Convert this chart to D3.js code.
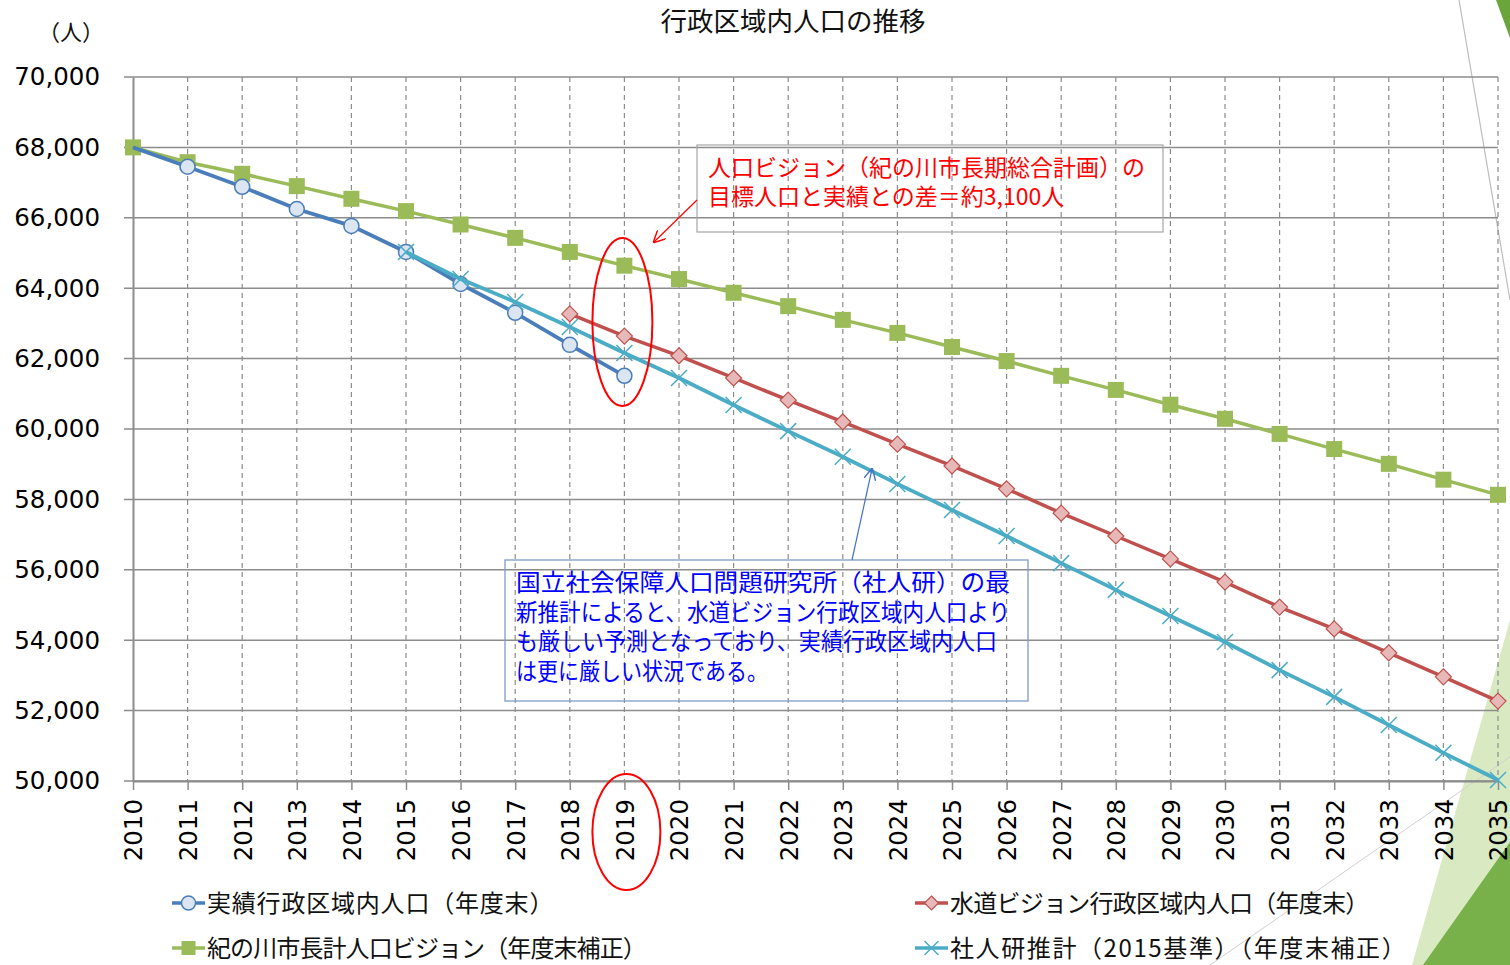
<!DOCTYPE html>
<html><head><meta charset="utf-8">
<script src="https://cdn.jsdelivr.net/npm/d3@7"></script>
<style>
html,body{margin:0;padding:0;background:#fff;}
svg{display:block;}
</style></head>
<body>
<svg id="chart" width="1510" height="965"></svg>
<script>
// ---- data ----
const years = [2010,2011,2012,2013,2014,2015,2016,2017,2018,2019,2020,2021,2022,2023,2024,2025,2026,2027,2028,2029,2030,2031,2032,2033,2034,2035];
const yTicks = [50000,52000,54000,56000,58000,60000,62000,64000,66000,68000,70000];
const actualYears = [2010,2011,2012,2013,2014,2015,2016,2017,2018,2019];
const actual = [68000,67450,66880,66250,65770,65030,64120,63300,62390,61510];
const visionYears = years;
const vision = [68000,67580,67250,66900,66540,66190,65810,65430,65030,64640,64260,63870,63490,63100,62730,62330,61930,61510,61110,60690,60290,59860,59430,59010,58560,58130];
const waterYears = [2018,2019,2020,2021,2022,2023,2024,2025,2026,2027,2028,2029,2030,2031,2032,2033,2034,2035];
const water = [63270,62640,62080,61450,60820,60200,59570,58950,58300,57610,56960,56310,55650,54940,54320,53640,52960,52270];
const ipssYears = [2015,2016,2017,2018,2019,2020,2021,2022,2023,2024,2025,2026,2027,2028,2029,2030,2031,2032,2033,2034,2035];
const ipss = [65030,64260,63610,62900,62160,61450,60680,59940,59210,58440,57700,56960,56190,55430,54690,53950,53150,52390,51590,50800,50030];
const seriesNames = ["実績行政区域内人口（年度末）","紀の川市長計人口ビジョン（年度末補正）","水道ビジョン行政区域内人口（年度末）","社人研推計（2015基準）（年度末補正）"];
const title = "行政区域内人口の推移";
const unitLabel = "（人）";
const note1 = ["人口ビジョン（紀の川市長期総合計画）の","目標人口と実績との差＝約3,100人"];
const note2 = ["国立社会保障人口問題研究所（社人研）の最","新推計によると、水道ビジョン行政区域内人口より","も厳しい予測となっており、実績行政区域内人口","は更に厳しい状況である。"];

const JP = "'Noto Sans CJK JP','Noto Sans',sans-serif";
const NUM = "'DejaVu Sans',Verdana,sans-serif";
const C = {blue:"#4a7ebb", blueFill:"#dce6f2", green:"#9bbb59", red:"#c0504d", redFill:"#e6b9b8", cyan:"#4bacc6", grid:"#8c8c8c"};

const svg = d3.select("#chart");
const x = d3.scaleLinear().domain([2010,2035]).range([133,1498]);
const y = d3.scaleLinear().domain([50000,70000]).range([781,77]);

// ---- slide decorations ----
const deco = svg.append("g");
deco.append("polygon").attr("points","1510,620 1510,965 1412,965").attr("fill","#d9eac3");
deco.append("polygon").attr("points","1510,842 1510,965 1423,965").attr("fill","#78b04a");
deco.append("polygon").attr("points","1496,0 1510,0 1510,38").attr("fill","#6aa53c");
deco.append("line").attr("x1",1210).attr("y1",965).attr("x2",1510).attr("y2",757).attr("stroke","#d0d0d0").attr("stroke-width",1);
deco.append("line").attr("x1",1459).attr("y1",0).attr("x2",1510).attr("y2",300).attr("stroke","#bdbdbd").attr("stroke-width",1.2);

// ---- grid ----
const g = svg.append("g");
g.selectAll(".hg").data(yTicks).join("line")
  .attr("x1",124).attr("x2",x(2035)).attr("y1",d=>y(d)).attr("y2",d=>y(d))
  .attr("stroke",C.grid).attr("stroke-width",1.5);
g.selectAll(".vg").data(years.slice(1)).join("line")
  .attr("x1",d=>x(d)).attr("x2",d=>x(d)).attr("y1",y(70000)).attr("y2",y(50000))
  .attr("stroke","#8c8c8c").attr("stroke-width",1.2).attr("stroke-dasharray","5,4");

// axes
const yAxis = d3.axisLeft(y).tickValues(yTicks).tickFormat(d3.format(",")).tickSize(0).tickPadding(33);
const ya = svg.append("g").attr("transform",`translate(${x(2010)},0)`).call(yAxis);
ya.select(".domain").attr("stroke","#8c8c8c").attr("stroke-width",2);
ya.selectAll("text").attr("font-family",NUM).attr("font-size",24.5).attr("fill","#000");

const xAxis = d3.axisBottom(x).tickValues(years).tickFormat(d=>String(d)).tickSize(9).tickSizeOuter(0).tickPadding(10);
const xa = svg.append("g").attr("transform",`translate(0,${y(50000)})`).call(xAxis);
xa.select(".domain").attr("stroke","#8c8c8c").attr("stroke-width",2);
xa.selectAll(".tick line").attr("stroke","#8c8c8c").attr("stroke-width",1.5);
xa.selectAll("text").attr("font-family",NUM).attr("font-size",24.5).attr("fill","#000")
  .attr("transform","rotate(-90)").attr("text-anchor","end").attr("dy","0.36em").attr("x",-18).attr("y",0);

// ---- series ----
const line = d3.line().x(d=>x(d[0])).y(d=>y(d[1]));
function zip(a,b){return a.map((v,i)=>[v,b[i]]);}
const dA = zip(actualYears,actual), dV = zip(visionYears,vision), dW = zip(waterYears,water), dI = zip(ipssYears,ipss);

const S = svg.append("g");
// green
S.append("path").datum(dV).attr("d",line).attr("fill","none").attr("stroke",C.green).attr("stroke-width",3.5);
S.selectAll(".sq").data(dV).join("rect").attr("x",d=>x(d[0])-8).attr("y",d=>y(d[1])-8).attr("width",16).attr("height",16).attr("fill",C.green);
// blue actual
S.append("path").datum(dA).attr("d",line).attr("fill","none").attr("stroke",C.blue).attr("stroke-width",3.8);
S.selectAll(".ci").data(dA.slice(1)).join("circle").attr("cx",d=>x(d[0])).attr("cy",d=>y(d[1])).attr("r",7.5)
  .attr("fill",C.blueFill).attr("stroke",C.blue).attr("stroke-width",1.5);
// red water
S.append("path").datum(dW).attr("d",line).attr("fill","none").attr("stroke",C.red).attr("stroke-width",3.5);
S.selectAll(".dm").data(dW).join("path").attr("transform",d=>`translate(${x(d[0])},${y(d[1])})`)
  .attr("d","M0,-8L8,0L0,8L-8,0Z").attr("fill",C.redFill).attr("stroke",C.red).attr("stroke-width",1.2);
// cyan ipss
S.append("path").datum(dI).attr("d",line).attr("fill","none").attr("stroke",C.cyan).attr("stroke-width",3.8);
S.selectAll(".xm").data(dI).join("path").attr("transform",d=>`translate(${x(d[0])},${y(d[1])})`)
  .attr("d","M-8,-8L8,8M-8,8L8,-8").attr("fill","none").attr("stroke",C.cyan).attr("stroke-width",1.5);

// ---- title & unit ----
svg.append("text").attr("x",793).attr("y",31).attr("text-anchor","middle").attr("font-family",JP).attr("font-size",26.5).attr("fill","#111").text(title);
svg.append("text").attr("x",38).attr("y",40).attr("font-family",JP).attr("font-size",22).attr("fill","#111").text(unitLabel);

// ---- annotations ----
const defs = svg.append("defs");
function mk(id,col){
  defs.append("marker").attr("id",id).attr("viewBox","0 0 10 10").attr("refX",9).attr("refY",5)
   .attr("markerWidth",12).attr("markerHeight",12).attr("markerUnits","userSpaceOnUse").attr("orient","auto")
   .append("path").attr("d","M0,0L10,5L0,10").attr("fill","none").attr("stroke",col).attr("stroke-width",1.2);
}
mk("arR","#ff0000"); mk("arB","#4472c4");

// red note box
svg.append("rect").attr("x",697).attr("y",145).attr("width",466).attr("height",87).attr("fill","none").attr("stroke","#a6a6a6").attr("stroke-width",1.2);
svg.append("g").selectAll("text").data(note1).join("text").attr("x",708).attr("y",(d,i)=>176+i*29)
  .attr("font-family",JP).attr("font-size",23).attr("fill","#ff0000").text(d=>d);
svg.append("line").attr("x1",697).attr("y1",200).attr("x2",654).attr("y2",242).attr("stroke","#ff0000").attr("stroke-width",1.2).attr("marker-end","url(#arR)");

// ellipses at 2019
svg.append("ellipse").attr("cx",x(2019)-2).attr("cy",322).attr("rx",30).attr("ry",84).attr("fill","none").attr("stroke","#ff0000").attr("stroke-width",2);
svg.append("ellipse").attr("cx",x(2019)+2).attr("cy",832).attr("rx",34).attr("ry",58).attr("fill","none").attr("stroke","#ff0000").attr("stroke-width",2);

// blue note box
svg.append("rect").attr("x",505).attr("y",560).attr("width",523).attr("height",141).attr("fill","none").attr("stroke","#7f9cc6").attr("stroke-width",1.3);
svg.append("g").selectAll("text").data(note2).join("text").attr("x",516).attr("y",(d,i)=>591+i*29.5)
  .attr("font-family",JP).attr("font-size",23.5).attr("fill","#0000ff")
  .attr("textLength",(d,i)=>[494,494,481,252][i]).attr("lengthAdjust","spacingAndGlyphs").text(d=>d);
svg.append("line").attr("x1",852).attr("y1",560).attr("x2",872).attr("y2",469).attr("stroke","#4472c4").attr("stroke-width",1.2).attr("marker-end","url(#arB)");

// ---- legend ----
const leg = [
 {x:172,y:903,name:seriesNames[0],type:"circle",ls:0.8},
 {x:915,y:903,name:seriesNames[2],type:"diamond",ls:-0.75},
 {x:172,y:948,name:seriesNames[1],type:"square",ls:-0.9},
 {x:915,y:948,name:seriesNames[3],type:"x",ls:1.6}
];
const colMap = {circle:C.blue,diamond:C.red,square:C.green,x:C.cyan};
const L = svg.append("g");
leg.forEach(e=>{
  const gg = L.append("g").attr("transform",`translate(${e.x},${e.y})`);
  gg.append("line").attr("x1",0).attr("x2",33).attr("stroke",colMap[e.type]).attr("stroke-width",3.5);
  const m = 16.5;
  if(e.type==="circle") gg.append("circle").attr("cx",m).attr("r",7).attr("fill",C.blueFill).attr("stroke",C.blue).attr("stroke-width",1.5);
  if(e.type==="diamond") gg.append("path").attr("transform",`translate(${m},0)`).attr("d","M0,-7L7,0L0,7L-7,0Z").attr("fill",C.redFill).attr("stroke",C.red).attr("stroke-width",1.2);
  if(e.type==="square") gg.append("rect").attr("x",m-7).attr("y",-7).attr("width",14).attr("height",14).attr("fill",C.green);
  if(e.type==="x") gg.append("path").attr("transform",`translate(${m},0)`).attr("d","M-7,-7L7,7M-7,7L7,-7").attr("stroke",C.cyan).attr("stroke-width",1.5);
  gg.append("text").attr("x",35).attr("y",0).attr("dy","0.36em").attr("font-family",JP).attr("font-size",24)
    .attr("letter-spacing",e.ls+"px").attr("fill","#111").text(e.name);
});
</script>
</body></html>
